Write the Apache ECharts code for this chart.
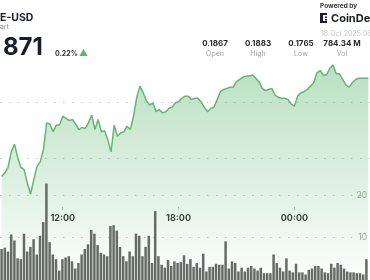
<!DOCTYPE html>
<html><head><meta charset="utf-8">
<script src="https://cdn.jsdelivr.net/npm/echarts@6/dist/echarts.min.js"></script>
<style>html,body{margin:0;padding:0;background:#fff;overflow:hidden}#c{width:370px;height:280px}</style>
</head><body><div id="c"></div>
<script>
// 10-minute buckets, 18 Oct 2025 (visible window)
const categories = [
 "08:50",
 "09:00","09:10","09:20","09:30","09:40","09:50",
 "10:00","10:10","10:20","10:30","10:40","10:50",
 "11:00","11:10","11:20","11:30","11:40","11:50",
 "12:00","12:10","12:20","12:30","12:40","12:50",
 "13:00","13:10","13:20","13:30","13:40","13:50",
 "14:00","14:10","14:20","14:30","14:40","14:50",
 "15:00","15:10","15:20","15:30","15:40","15:50",
 "16:00","16:10","16:20","16:30","16:40","16:50",
 "17:00","17:10","17:20","17:30","17:40","17:50",
 "18:00","18:10","18:20","18:30","18:40","18:50",
 "19:00","19:10","19:20","19:30","19:40","19:50",
 "20:00","20:10","20:20","20:30","20:40","20:50",
 "21:00","21:10","21:20","21:30","21:40","21:50",
 "22:00","22:10","22:20","22:30","22:40","22:50",
 "23:00","23:10","23:20","23:30","23:40","23:50",
 "00:00","00:10","00:20","00:30","00:40","00:50",
 "01:00","01:10","01:20","01:30","01:40","01:50",
 "02:00","02:10","02:20","02:30","02:40","02:50",
 "03:00","03:10","03:20","03:30","03:40","03:50"
];
const price = [
 0.1783,0.1786,0.1791,0.1805,0.1812,0.1800,0.1791,0.1789,0.1777,0.1767,
 0.1780,0.1792,0.1796,0.1807,0.1831,0.1830,0.1823,0.1829,0.1829,0.1837,
 0.1835,0.1833,0.1834,0.1830,0.1825,0.1827,0.1826,0.1831,0.1838,0.1825,
 0.1834,0.1823,0.1824,0.1816,0.1805,0.1829,0.1819,0.1822,0.1823,0.1828,
 0.1825,0.1837,0.1854,0.1864,0.1858,0.1851,0.1847,0.1849,0.1841,0.1843,
 0.1840,0.1841,0.1844,0.1845,0.1849,0.1850,0.1853,0.1855,0.1855,0.1852,
 0.1853,0.1853,0.1850,0.1845,0.1841,0.1844,0.1845,0.1852,0.1859,0.1861,
 0.1862,0.1863,0.1863,0.1868,0.1870,0.1872,0.1873,0.1873,0.1874,0.1871,
 0.1868,0.1862,0.1860,0.1861,0.1862,0.1856,0.1854,0.1853,0.1853,0.1852,
 0.1848,0.1846,0.1855,0.1858,0.1859,0.1861,0.1864,0.1867,0.1876,0.1878,
 0.1874,0.1874,0.1880,0.1883,0.1875,0.1875,0.1870,0.1865,0.1863,0.1867,
 0.1870,0.1871,0.1871,0.1871,0.1871
];
const volume = [ // millions
 7.3,7.6,6.7,10.7,9.3,5.1,4.9,10.9,6.7,7.8,
 9.6,6.0,10.4,13.6,22.7,8.9,6.0,4.9,2.2,4.9,
 5.3,5.6,4.4,2.7,4.0,6.0,7.3,8.4,11.8,10.9,
 8.2,6.4,6.0,5.6,12.7,12.9,11.6,7.8,5.6,4.4,
 6.7,5.6,10.9,10.4,5.6,7.8,10.4,4.0,16.2,5.6,
 3.6,2.9,4.7,3.3,4.4,4.0,4.2,5.8,3.8,4.9,
 3.1,4.0,2.9,6.2,2.0,3.1,3.1,3.8,3.6,3.6,
 9.1,2.7,4.4,4.0,2.0,2.9,2.0,2.9,3.3,2.7,
 2.2,2.9,1.6,1.6,1.6,6.0,4.0,2.9,2.0,5.1,
 2.2,1.8,3.8,1.8,1.8,1.3,2.4,2.7,3.3,3.3,
 2.7,1.8,1.6,3.8,2.9,4.0,3.6,2.7,2.0,1.8,
 1.8,1.6,1.6,1.3,4.9
];
const timeTickLabels = ["12:00","18:00","00:00"];
const statValues = ["0.1867","0.1883","0.1765","784.34 M"];
const statNames = ["Open","High","Low","Vol"];

const FONT = "Inter, 'Open Sans', sans-serif";
function txt(x, y, text, size, weight, fill, align) {
  return {type:'text', x:x, y:y, silent:true, z:100,
    style:{text:text, font: weight + ' ' + size + 'px ' + FONT, fill:fill,
      align:align||'left', verticalAlign:'middle', textAlign:align||'left', textVerticalAlign:'middle'}};
}
const statX = [215, 258, 301, 342];
const graphics = [
  txt(0, 17.5, "E-USD", 10.5, 'bold', '#1b1d29'),
  txt(0, 26.5, "art", 7, 'normal', '#8a8a8a'),
  txt(3, 48, "871", 24, 'bold', '#1b1d29'),
  txt(55, 54, "0.22%", 7, 'bold', '#333'),
  txt(79, 53.5, "\u25B2", 9, 'normal', '#5cb85c'),
  txt(320, 6, "Powered by", 6.5, 'bold', '#333'),
  txt(331, 18.5, "CoinDes", 11, 'bold', '#1b1d29'),
  txt(321, 33.5, "18 Oct 2025 06", 7, 'normal', '#c4c4c4'),
  {type:'rect', shape:{x:320,y:13,width:3,height:10}, style:{fill:'#1b1d29'}, silent:true},
  {type:'rect', shape:{x:320,y:13,width:7,height:2}, style:{fill:'#1b1d29'}, silent:true},
  {type:'rect', shape:{x:320,y:21,width:7,height:2}, style:{fill:'#1b1d29'}, silent:true},
  {type:'rect', shape:{x:325,y:16.5,width:2,height:1.5}, style:{fill:'#1b1d29'}, silent:true},
  {type:'rect', shape:{x:325,y:19,width:2,height:1.5}, style:{fill:'#1b1d29'}, silent:true}
];
statValues.forEach((v,i)=>{
  graphics.push(txt(statX[i], 43.5, v, 8, 'bold', '#2a2a2a', 'center'));
  graphics.push(txt(statX[i], 53.5, statNames[i], 7, 'normal', '#a0a0a0', 'center'));
});

const dotted = {color:'#c6c6c6', width:1, type:[1.5,7.5]};
const chart = echarts.init(document.getElementById('c'), null, {renderer:'canvas'});
chart.setOption({
  animation:false,
  backgroundColor:'#fff',
  graphic: graphics,
  grid:[
    {left:0, right:0, top:46, height:235},   // price
    {left:0, right:0, top:195, height:90},   // volume
    {left:0, right:0, top:102, height:56},   // price guide lines
    {left:0, right:0, top:0, height:207}     // time labels
  ],
  xAxis:[
    {gridIndex:0, type:'category', data:categories, boundaryGap:true, show:false},
    {gridIndex:1, type:'category', data:categories, boundaryGap:true, show:false},
    {gridIndex:2, type:'value', min:0, max:1, show:false},
    {gridIndex:3, type:'category', data:categories, boundaryGap:true,
      axisLine:{show:false},
      axisTick:{show:true, alignWithLabel:true, length:3, lineStyle:{color:'#bdbdbd'},
        interval:(i,v)=>timeTickLabels.indexOf(v)>=0},
      axisLabel:{show:true, margin:7, fontSize:9, fontWeight:'bold', color:'#333', fontFamily:FONT,
        interval:(i,v)=>timeTickLabels.indexOf(v)>=0},
      splitLine:{show:false}}
  ],
  yAxis:[
    {gridIndex:0, type:'value', min:0.169, max:0.19, show:false, splitLine:{show:false}},
    {gridIndex:1, type:'value', min:0, max:20, interval:10, position:'right',
      axisLine:{show:false}, axisTick:{show:false},
      axisLabel:{inside:true, margin:1, fontSize:8.5, color:'#9aa79c', fontFamily:FONT,
        formatter:v=> v===0 ? '' : String(v)},
      splitLine:{show:true, lineStyle:dotted}},
    {gridIndex:2, type:'value', min:0, max:1, interval:1,
      axisLine:{show:false}, axisTick:{show:false}, axisLabel:{show:false},
      splitLine:{show:true, lineStyle:dotted}},
    {gridIndex:3, type:'value', show:false, min:0, max:1, splitLine:{show:false}}
  ],
  series:[
    {type:'line', xAxisIndex:0, yAxisIndex:0, data:price, symbol:'none', smooth:false, z:2,
      lineStyle:{color:'#63b673', width:1.5},
      areaStyle:{origin:'start', color:new echarts.graphic.LinearGradient(0,0,0,1,[
        {offset:0, color:'rgba(96,184,112,0.62)'},
        {offset:1, color:'rgba(96,184,112,0.02)'}])}},
    {type:'bar', xAxisIndex:1, yAxisIndex:1, data:volume, clip:false, z:3,
      barCategoryGap:'22%', itemStyle:{color:'#656c65'}}
  ]
});
</script></body></html>
